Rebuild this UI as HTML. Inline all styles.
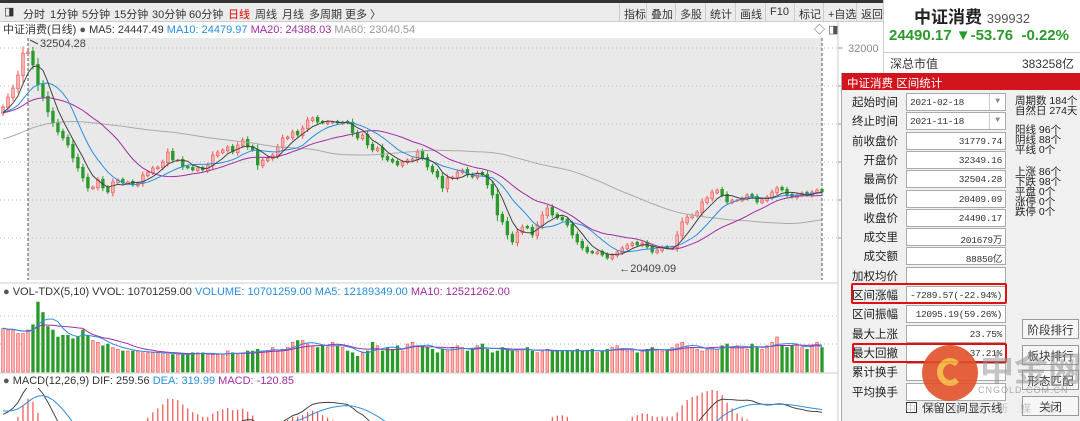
<!DOCTYPE html>
<html><head><meta charset="utf-8">
<style>
*{margin:0;padding:0;box-sizing:border-box}
html,body{width:1080px;height:421px;overflow:hidden}
body{background:#fff;font-family:"Liberation Sans","Noto Sans CJK SC",sans-serif;font-size:11px;color:#333;position:relative}
.abs{position:absolute;white-space:nowrap}
#topbar{left:0;top:0;width:883px;height:22px;background:#ececec;border-top:3px solid #333;border-bottom:1px solid #ccc}
.tb{position:absolute;top:3px;font-size:11px;color:#333}
.rb{position:absolute;top:0;height:19px;border-left:1px solid #ccc;padding:3px 4px 0;font-size:11px}
#rhead{left:883px;top:0;width:197px;height:73px;background:#fff;border-left:1px solid #ccc}
#dlg{left:841px;top:73px;width:239px;height:348px;background:#f0f0f0;border-left:1px solid #aaa;overflow:hidden}
.lbl{position:absolute;width:56px;text-align:right;font-size:11.5px;color:#222}
.inp{position:absolute;left:64px;width:100px;height:18px;background:#fff;border:1px solid #aaa;text-align:right;padding:3px 3px 0 0;font-family:"Liberation Mono","Noto Sans CJK SC",monospace;font-size:9.5px;letter-spacing:-0.3px;overflow:hidden}
.st{position:absolute;left:173px;font-size:10.5px;line-height:10px;color:#222}
.btn{position:absolute;left:180px;width:57px;height:20px;border:1px solid #999;background:#f6f6f6;text-align:center;font-size:11.5px;padding-top:2px}
.redbox{position:absolute;border:2px solid #e01010;border-radius:2px}
</style></head><body>
<div id="topbar" class="abs">
<span class="tb" style="left:4px;top:2px">◨</span>
<span class="tb" style="left:23px">分时</span>
<span class="tb" style="left:50px">1分钟</span>
<span class="tb" style="left:82px">5分钟</span>
<span class="tb" style="left:114px">15分钟</span>
<span class="tb" style="left:152px">30分钟</span>
<span class="tb" style="left:189px">60分钟</span>
<span class="tb" style="left:228px;color:#e00000">日线</span>
<span class="tb" style="left:255px">周线</span>
<span class="tb" style="left:282px">月线</span>
<span class="tb" style="left:309px">多周期</span>
<span class="tb" style="left:345px">更多 〉</span>
<span class="rb" style="left:619px">指标</span>
<span class="rb" style="left:646px">叠加</span>
<span class="rb" style="left:675px">多股</span>
<span class="rb" style="left:705px">统计</span>
<span class="rb" style="left:735px">画线</span>
<span class="rb" style="left:765px">F10</span>
<span class="rb" style="left:794px">标记</span>
<span class="rb" style="left:823px">+自选</span>
<span class="rb" style="left:856px">返回</span>
</div>

<div class="abs" style="left:3px;top:21px;font-size:11px">中证消费(日线) <span style="color:#555">●</span> <span>MA5: 24447.49</span> <span style="color:#2a8de0">MA10: 24479.97</span> <span style="color:#a22ca2">MA20: 24388.03</span> <span style="color:#999">MA60: 23040.54</span></div>
<div class="abs" style="left:814px;top:21px;font-size:11px;color:#555">◇ ◨</div>
<div class="abs" style="left:3px;top:286px;font-size:11px"><span style="color:#555">●</span> VOL-TDX(5,10) VVOL: 10701259.00 <span style="color:#2a8de0">VOLUME: 10701259.00 MA5: 12189349.00</span> <span style="color:#a22ca2">MA10: 12521262.00</span></div>
<div class="abs" style="left:3px;top:375px;font-size:11px"><span style="color:#555">●</span> MACD(12,26,9) DIF: 259.56 <span style="color:#2a8de0">DEA: 319.99</span> <span style="color:#a22ca2">MACD: -120.85</span></div>

<svg id="chart" class="abs" style="left:0;top:0" width="883" height="421"></svg>

<div id="rhead" class="abs">
<div class="abs" style="left:30px;top:3px;font-size:17px;font-weight:bold;color:#222">中证消费 <span style="font-size:13px;font-weight:normal;color:#555">399932</span></div>
<div class="abs" style="left:5px;top:27px;font-size:15px;font-weight:bold;color:#2a9a2a">24490.17 ▼-53.76 &nbsp;-0.22%</div>
<div class="abs" style="left:0;top:52px;width:197px;border-top:1px solid #ccc"></div>
<div class="abs" style="left:6px;top:55px;font-size:12px">深总市值</div>
<div class="abs" style="right:6px;top:55px;font-size:12px">383258亿</div>
</div>

<div id="dlg" class="abs">
<div class="abs" style="left:0;top:0;width:239px;height:17px;background:#d4141c;color:#fff;font-size:11.5px;padding:2px 0 0 5px">中证消费 区间统计</div>
<div id="rows"></div>
<div class="st" style="top:23px">周期数 184个<br>自然日 274天</div>
<div class="st" style="top:52px">阳线 96个<br>阴线 88个<br>平线 0个</div>
<div class="st" style="top:94px">上涨 86个<br>下跌 98个<br>平盘 0个<br>涨停 0个<br>跌停 0个</div>
<div class="btn" style="top:246px">阶段排行</div>
<div class="btn" style="top:272px">板块排行</div>
<div class="btn" style="top:297px">形态匹配</div>
<div class="btn" style="top:323px">关闭</div>
<div class="abs" style="left:64px;top:329px;width:11px;height:11px;border:1px solid #333;background:#fff"></div>
<div class="abs" style="left:80px;top:327px;font-size:11.5px">保留区间显示线</div>
<div class="redbox" style="left:9px;top:210px;width:156px;height:21px"></div>
<div class="redbox" style="left:10px;top:270px;width:155px;height:20px"></div>
</div>

<div class="abs" style="left:922px;top:345px;width:56px;height:56px;border-radius:50%;background:#e2502a;opacity:.9"><div style="position:absolute;left:15px;top:13px;width:26px;height:28px;border-radius:50%;border:6px solid #f6b23c;border-right-color:transparent"></div></div>
<div class="abs" style="left:980px;top:342px;font-size:34px;font-weight:bold;color:rgba(150,150,150,.55)">中金网</div>
<div class="abs" style="left:978px;top:385px;font-size:9px;color:rgba(140,140,140,.7);letter-spacing:1px">CNGOLD.COM.CN</div>
<div class="abs" style="left:905px;top:400px;font-size:11px;color:rgba(150,150,150,.5);letter-spacing:12px;height:14px;overflow:hidden">中文财经新媒体</div>

<script>
const priorCloses=[24600,24750,24500,24900,25100,24950,25200,25400,25300,25600,25500,25800,25700,26000,25900,26200,26100,26400,26300,26500,26700,26600,26900,26800,27100,27000,27300,27200,27500,27400,27700,27600,27900,27800,28000,28100,27900,28200,28300,28100,28400,28300,28500,28600,28400,28700,28600,28800,28500,28700,28900,28600,28800,28400,28600,28300,28500,28700,28600];
const closes=[28895,29421,29895,30579,31737,31789,31105,30053,29421,28632,28053,27579,27263,26895,26211,25684,25158,24632,24684,25053,24632,24421,24947,25053,24895,24947,24789,24895,25316,25474,25684,25737,26000,26526,26105,26105,25737,25684,25579,25684,25579,25842,26368,26526,26632,26789,26526,26895,27158,26789,26632,25842,26105,26211,26368,26789,27263,27316,27579,27421,27789,28211,28316,28105,28053,28105,28105,28053,28105,28053,27526,27263,27421,26895,26632,26737,26263,26105,26000,25842,26000,26105,26158,26526,26211,25737,25474,25211,24632,25158,25211,25474,25579,25316,25211,25421,25316,24789,24263,23211,22842,22158,21790,22316,22579,22526,22158,22684,23211,23579,23211,23053,22947,22684,22158,21790,21474,21263,21211,21263,21105,20947,21105,21263,21474,21632,21737,21632,21737,21526,21263,21368,21526,21474,21526,22158,22842,23105,23211,23368,23895,24105,24421,24526,24263,23895,24000,24000,24105,24263,24158,23895,24000,24158,24421,24632,24526,24263,24158,24263,24368,24263,24421,24526,24421];
const volumes=[25,24,24,22,22,24,27,40,34,26,24,20,21,21,19,20,24,21,18,17,15,16,14,13,12,12,12,12,11,11,11,11,11,10,10,10,10,10,11,11,11,10,10,10,10,12,11,10,11,12,12,13,12,12,14,12,13,14,17,18,18,16,15,14,15,14,17,15,14,12,11,9,11,12,17,15,12,14,13,15,12,16,17,15,15,14,13,11,13,12,14,15,14,12,13,15,16,13,11,12,14,13,12,12,13,14,12,11,12,13,12,12,12,12,12,13,12,12,13,11,12,13,14,15,13,12,12,11,12,13,14,13,12,12,14,16,17,15,14,13,12,13,14,13,15,16,14,15,14,13,16,14,13,15,17,20,15,14,15,16,14,13,15,17,14];
const priceTicks=[32000,30000,28000,26000,24000,22000];
const highLabel="32504.28", lowLabel="20409.09";

const svg=document.getElementById('chart');
const NS='http://www.w3.org/2000/svg';
function mk(t,a,parent){const e=document.createElementNS(NS,t);for(const k in a)e.setAttribute(k,a[k]);(parent||svg).appendChild(e);return e;}
const n=closes.length, P=priorCloses.length;
const all=priorCloses.concat(closes);
const X=i=>3+i*(819/(n-1));
const Y=p=>48+(32000-p)*0.019;
const VY=v=>372-v*1.75;
let bg=mk('rect',{x:28,y:38,width:794,height:242,fill:'#e9e9e9'});

mk('line',{x1:0,y1:283,x2:838,y2:283,stroke:'#ccc'});
mk('line',{x1:0,y1:373,x2:838,y2:373,stroke:'#ccc'});
mk('line',{x1:838,y1:22,x2:838,y2:421,stroke:'#ccc'});
priceTicks.forEach(p=>{
  const l=mk('line',{x1:0,y1:Y(p),x2:838,y2:Y(p),stroke:'#bbb','stroke-dasharray':'1,3'});
  
  mk('line',{x1:838,y1:Y(p),x2:843,y2:Y(p),stroke:'#999'});
});
const t32=mk('text',{x:848,y:Y(32000)+4,'font-size':11,fill:'#888'});t32.textContent=priceTicks[0];

[316,344].forEach(y=>mk('line',{x1:0,y1:y,x2:838,y2:y,stroke:'#bbb','stroke-dasharray':'1,3'}));
mk('line',{x1:28,y1:38,x2:28,y2:280,stroke:'#555','stroke-dasharray':'3,2'});
mk('line',{x1:822,y1:38,x2:822,y2:280,stroke:'#555','stroke-dasharray':'3,2'});
const cw=Math.max(2,819/(n-1)*0.55);
for(let i=0;i<n;i++){
  const c=closes[i], prev=i?closes[i-1]:priorCloses[P-1];
  const o=prev+(c>=prev?-40:40);
  const up=c>=o;
  const col=up?'#f05050':'#2a9a2a', fill=up?'#ffb0b0':'#2a9a2a';
  const w=Math.abs(c-o)*0.25+50;
  const hi=Math.max(o,c)+w, lo=Math.min(o,c)-w;
  const x=X(i);
  mk('line',{x1:x,y1:Y(hi),x2:x,y2:Y(lo),stroke:col});
  const r=mk('rect',{x:x-cw/2,y:Y(Math.max(o,c)),width:cw,height:Math.max(1,Math.abs(Y(o)-Y(c))),fill:fill,stroke:col,'stroke-width':.6});
  
  const v=volumes[i]||12;
  const b=mk('rect',{x:x-cw/2,y:VY(v),width:cw,height:372-VY(v),fill:fill,stroke:col,'stroke-width':.6});
  
}
function ma(arr,p){return arr.map((_,i)=>{const s=Math.max(0,i-p+1);let t=0;for(let j=s;j<=i;j++)t+=arr[j];return t/(i-s+1);});}
function line(vals,fy,color,name){
  const d=vals.map((v,i)=>(i?'L':'M')+X(i).toFixed(1)+','+fy(v).toFixed(1)).join('');
  const p=mk('path',{d:d,fill:'none',stroke:color,'stroke-width':1});
  
}
line(ma(all,60).slice(P),Y,'#aaa','ma60-line');
line(ma(all,20).slice(P),Y,'#a22ca2','ma20-line');
line(ma(all,10).slice(P),Y,'#2a8de0','ma10-line');
line(ma(all,5).slice(P),Y,'#444','ma5-line');
const vv=volumes.slice(0,n);
line(ma(vv,10),VY,'#a22ca2','vol-ma10-line');
line(ma(vv,5),VY,'#2a8de0','vol-ma5-line');
const hl=mk('text',{x:40,y:47,'font-size':11,fill:'#444'});hl.textContent=highLabel;

mk('path',{d:'M30,40 L38,44',stroke:'#444',fill:'none'});
const imin=closes.indexOf(Math.min(...closes));
const ll=mk('text',{x:X(imin)+12,y:272,'font-size':11,fill:'#444'});ll.textContent='←'+lowLabel;

function ema(arr,p){const k=2/(p+1);let e=arr[0];return arr.map(v=>e=e+(v-e)*k);}
const e12=ema(all,12),e26=ema(all,26);
const difA=e12.map((v,i)=>v-e26[i]);const deaA=ema(difA,9);
const dif=difA.slice(P),dea=deaA.slice(P);
const MY=v=>430-v*0.055;
const cp=mk('clipPath',{id:'mc'});mk('rect',{x:0,y:388,width:838,height:33},cp);
const g=mk('g',{'clip-path':'url(#mc)'});
for(let i=0;i<n;i++){
  const h=(dif[i]-dea[i])*2;
  const l=mk('line',{x1:X(i),y1:MY(0),x2:X(i),y2:MY(h),stroke:h>=0?'#f05050':'#2a9a2a','stroke-width':1.2},g);
  
}
const dp=mk('path',{d:dif.map((v,i)=>(i?'L':'M')+X(i)+','+MY(v)).join(''),fill:'none',stroke:'#444'},g);

const ep=mk('path',{d:dea.map((v,i)=>(i?'L':'M')+X(i)+','+MY(v)).join(''),fill:'none',stroke:'#2a8de0'},g);


const rows=[["起始时间","2021-02-18"],["终止时间","2021-11-18"],["前收盘价","31779.74"],["开盘价","32349.16"],["最高价","32504.28"],["最低价","20409.09"],["收盘价","24490.17"],["成交里","201679万"],["成交额","88850亿"],["加权均价",""],["区间涨幅","-7289.57(-22.94%)"],["区间振幅","12095.19(59.26%)"],["最大上涨","23.75%"],["最大回撤","-37.21%"],["累计换手",""],["平均换手",""]];
const rc=document.getElementById('rows');
rows.forEach((r,i)=>{
  const top=20+i*19.3;
  const l=document.createElement('div');l.className='lbl';l.style.top=(top+1)+'px';l.textContent=r[0];
  
  
  rc.appendChild(l);
  const v=document.createElement('div');v.className='inp';v.style.top=top+'px';
  if(i<2){v.style.textAlign='left';v.style.paddingLeft='3px';v.innerHTML=r[1]+'<span style="position:absolute;right:0;top:0;width:16px;height:16px;border-left:1px solid #ccc;text-align:center;color:#888;font-size:8px;padding-top:3px">▼</span>';}
  else v.textContent=r[1];
  
  
  rc.appendChild(v);
});
</script>
</body></html>
